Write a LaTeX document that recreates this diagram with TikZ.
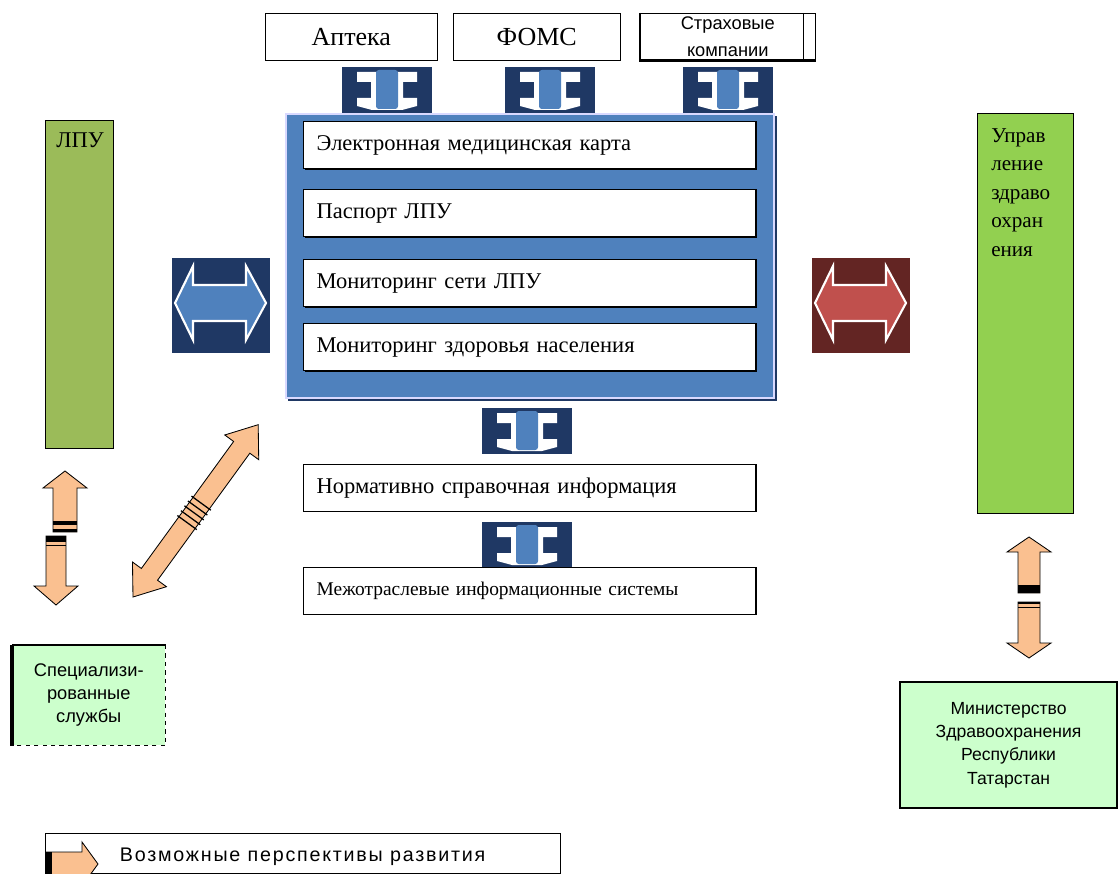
\documentclass[tikz,border=0pt]{standalone}
\usepackage{fontspec}
\setmainfont{Liberation Serif}
\newfontfamily\arialfont{Liberation Sans}
\newfontfamily\widearialfont[LetterSpace=9]{Liberation Sans}
\usetikzlibrary{shadows}

\definecolor{iconnavy}{RGB}{31,56,100}
\definecolor{iconblue}{RGB}{79,129,189}
\definecolor{panelblue}{RGB}{79,129,189}
\definecolor{iconmaroon}{RGB}{99,37,35}
\definecolor{iconred}{RGB}{192,80,77}
\definecolor{lpugreen}{RGB}{155,187,89}
\definecolor{mzgreen}{RGB}{146,208,80}
\definecolor{palegreen}{RGB}{204,255,204}
\definecolor{peach}{RGB}{250,192,144}

\def\theunit{0.025cm}

\begin{document}
\begin{tikzpicture}[x=\theunit,y=-\theunit,
    topbox/.style={draw,fill=white,anchor=north west,inner sep=0pt,minimum height=47*\theunit,font=\fontsize{18.5}{21}\selectfont},
    listbox/.style={draw,fill=white,anchor=north west,line width=1pt,inner sep=0pt,inner xsep=13*\theunit,text width=10.65cm,align=left,minimum height=47*\theunit,font=\fontsize{16}{19}\selectfont},
    shadowed/.style={drop shadow={shadow xshift=0.8pt,shadow yshift=-0.8pt,fill=black,opacity=1}},
    bigarrow/.style={fill=peach,draw=black,line width=0.6pt}
    ]
    \useasboundingbox (0,0) rectangle (1119,874);

    \node[topbox,minimum width=172*\theunit] (apteka) at (265,13) {Аптека};
    \node[topbox,minimum width=167*\theunit] (foms) at (453,13) {ФОМС};
    \node[topbox,minimum width=175*\theunit,align=center,font=\arialfont\fontsize{13}{19}\selectfont] (strakh) at (640,13) {Страховые\\компании};
    \draw[line width=2pt] (strakh.north west) -- (strakh.south west) -- (strakh.south east);
    \draw (803,13) -- (803,60);

    \foreach \ix/\iy in {342/67,505/67,683/67,482/408,482/522} {
      \begin{scope}[shift={(\ix,\iy)}]
        \fill[iconnavy] (0,0) rectangle (90,46);
        \fill[white] (15,5) -- (75,5) -- (75,15) -- (61,15) -- (61,31) -- (75,31) -- (75,39) -- (60,43)
          -- (30,43) -- (15,39) -- (15,31) -- (29,31) -- (29,15) -- (15,15) -- cycle;
        \fill[iconblue,rounded corners=2pt] (34,3) rectangle (56,42);
      \end{scope}
    }

    \fill[iconnavy] (288,116) rectangle (777,401);
    \node[draw=white!85!blue,line width=1.5pt,fill=panelblue,anchor=north west,inner sep=0pt,
      minimum width=488*\theunit,minimum height=284*\theunit] (panel) at (285,113) {};
    \node[listbox,shadowed] (emk) at (303,121) {Электронная медицинская карта};
    \node[listbox,shadowed] (passport) at (303,189) {Паспорт ЛПУ};
    \node[listbox,shadowed] (monnet) at (303,259) {Мониторинг сети ЛПУ};
    \node[listbox,shadowed] (monhealth) at (303,323) {Мониторинг здоровья населения};
    \node[listbox] (nsi) at (303,464) {Нормативно справочная информация};
    \node[listbox,font=\fontsize{13.8}{17}\selectfont] (mis) at (303,567) {Межотраслевые информационные системы};

    \foreach \ix/\bg/\fg in {172/iconnavy/iconblue,812/iconmaroon/iconred} {
      \begin{scope}[shift={(\ix,258)}]
        \fill[\bg] (0,0) rectangle (98,95);
        \draw[fill=\fg,draw=white,line width=1.5pt] (3,45) -- (21,8) -- (21,27) -- (74,27) -- (74,8) -- (94,45)
          -- (74,82) -- (74,63) -- (21,63) -- (21,82) -- cycle;
      \end{scope}
    }

    \node[draw,fill=lpugreen,anchor=north west,inner sep=0pt,minimum width=68*\theunit,minimum height=328*\theunit] (lpu) at (45,120) {};
    \node[anchor=north west,inner sep=0pt,font=\fontsize{16}{19}\selectfont] (lputitle) at (56,132) {ЛПУ};
    \node[draw,fill=mzgreen,anchor=north west,inner sep=0pt,minimum width=96*\theunit,minimum height=400*\theunit] (mz) at (977,113) {};
    \node[anchor=north west,inner sep=0pt,align=left,font=\fontsize{15}{20.3}\selectfont] (mztitle) at (991,128) {Управ\\ление\\здраво\\охран\\ения};

    \draw[bigarrow] (65,471) -- (87,488) -- (77,488) -- (77,532) -- (53,532) -- (53,488) -- (43,488) -- cycle;
    \fill (53,521) rectangle (77,525);
    \fill (53,529) rectangle (77,532);
    \draw[bigarrow] (46,536) -- (66,536) -- (66,586) -- (78,586) -- (56,605) -- (34,586) -- (46,586) -- cycle;
    \fill (46,536) rectangle (66,542);
    \draw (46,545) -- (66,545);

    \begin{scope}[shift={(133,597)},rotate=54]
      \draw[bigarrow] (0,0) -- (28,-21) -- (28,-10) -- (185,-10) -- (185,-21) -- (213,0) -- (185,21) -- (185,10)
        -- (28,10) -- (28,21) -- cycle;
      \foreach \k in {92,98,104,110,116} \draw[line width=0.9pt] (\k,-12) -- (\k,12);
    \end{scope}

    \draw[bigarrow] (1029,537) -- (1051,552) -- (1040,552) -- (1040,593) -- (1018,593) -- (1018,552) -- (1007,552) -- cycle;
    \fill (1018,585) rectangle (1040,593);
    \draw[bigarrow] (1018,602) -- (1040,602) -- (1040,643) -- (1051,643) -- (1029,658) -- (1007,643) -- (1018,643) -- cycle;
    \fill (1018,602) rectangle (1040,604);
    \draw (1018,607) -- (1040,607);

    \node[fill=palegreen,anchor=north west,inner sep=0pt,minimum width=153*\theunit,minimum height=100*\theunit,
      align=center,font=\arialfont\fontsize{13}{16.5}\selectfont] (spec) at (12,645) {Специализи-\\рованные\\службы};
    \draw[dashed,line width=0.8pt] (spec.north east) -- (spec.south east) -- (spec.south west);
    \draw[line width=0.8pt] (spec.north west) -- (spec.north east);
    \draw[line width=2.5pt] (spec.north west) -- (spec.south west);

    \node[draw,line width=1.5pt,fill=palegreen,anchor=north west,inner sep=0pt,minimum width=217*\theunit,minimum height=126*\theunit,
      align=center,font=\arialfont\fontsize{12.5}{16.5}\selectfont] (minzdrav) at (899,681) {Министерство\\Здравоохранения\\Республики\\Татарстан};

    \node[draw,anchor=north west,inner sep=0pt,minimum width=515*\theunit,minimum height=40*\theunit] (legend) at (45,833) {};
    \node[anchor=west,font=\widearialfont\fontsize{14}{16}\selectfont] (legendtext) at (115,857) {Возможные перспективы развития};
    \begin{scope}
      \clip (0,0) rectangle (1119,874);
      \draw[bigarrow] (46,852) -- (82,852) -- (82,842) -- (98,864) -- (82,886) -- (82,876) -- (46,876) -- cycle;
      \fill (46,852) rectangle (52,876);
    \end{scope}
\end{tikzpicture}
\end{document}
